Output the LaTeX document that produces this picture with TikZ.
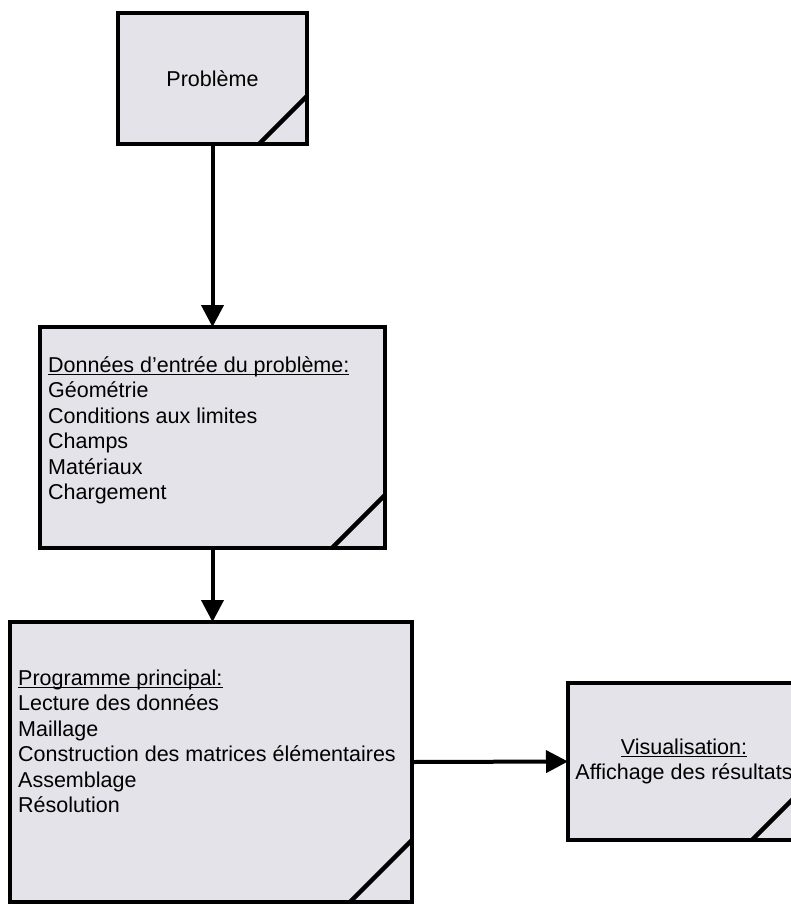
\documentclass[tikz,border=0pt]{standalone}
\usepackage{fontspec}
\setmainfont{Liberation Sans}
\usetikzlibrary{arrows.meta,calc}

\definecolor{blocfill}{rgb}{0.890000, 0.890000, 0.915000}
\newcommand{\souligne}[1]{\leavevmode\setbox0\hbox{#1}\rlap{\rule[-2.6pt]{\wd0}{1.3pt}}\box0}
\newcommand{\coin}[2]{\draw[pli] ($(#1.south east)+(-#2,0)$) -- ($(#1.south east)+(0,-#2)$);}

\tikzset{
  bloc/.style={draw=black, line width=4.5pt, fill=blocfill, rectangle, inner sep=0pt, outer sep=0pt,
    font=\fontsize{21.5}{25.4}\selectfont, align=center},
  bloctexte/.style={inner sep=0pt, align=left, font=\fontsize{21.5}{25.4}\selectfont},
  fleche/.style={line width=4pt, -{Triangle[length=22pt,width=22pt]}},
  pli/.style={line width=4.5pt}
}

\begin{document}
\begin{tikzpicture}[x=1pt,y=-1pt]
\useasboundingbox (0,0) rectangle (791,906);
\fill[white] (0,0) rectangle (791,906);
% blocs
\node[bloc, minimum width=189pt, minimum height=131pt] (probleme) at (212.5,78.5) {Problème};
\node[bloc, minimum width=345pt, minimum height=221pt] (donnees) at (212.5,437.5) {};
\node[bloc, minimum width=402pt, minimum height=280pt] (programme) at (211,762) {};
\node[bloc, minimum width=232pt, minimum height=157pt] (visu) at (684,761.5) {\souligne{Visualisation:}\\Affichage des résultats};
% textes (base = last line)
\node[bloctexte, anchor=base west] (donneestxt) at ($(donnees.north west)+(8,172.4)$)
  {\souligne{Données d'entrée du problème:}\\Géométrie\\Conditions aux limites\\Champs\\Matériaux\\Chargement};
\node[bloctexte, anchor=base west] (programmetxt) at ($(programme.north west)+(8,190.4)$)
  {\souligne{Programme principal:}\\Lecture des données\\Maillage\\Construction des matrices élémentaires\\Assemblage\\Résolution};
% coins plies
\coin{probleme}{48}
\coin{donnees}{53}
\coin{programme}{62}
\coin{visu}{48}
% fleches
\draw[fleche] (probleme.south) -- (donnees.north);
\draw[fleche] (donnees.south) -- (donnees.south |- programme.north);
\draw[fleche] (programme.east) -- (visu.west);
\end{tikzpicture}
\end{document}
